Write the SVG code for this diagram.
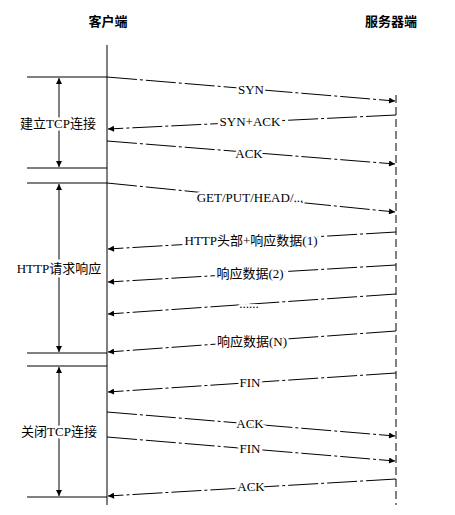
<svg xmlns="http://www.w3.org/2000/svg" width="455" height="515" viewBox="0 0 455 515">
<defs>
<marker id="ah" viewBox="0 0 10 10" refX="10" refY="5" markerWidth="7" markerHeight="6" markerUnits="userSpaceOnUse" orient="auto">
<path d="M0,0 L10,5 L0,10 z" fill="#000"/>
</marker>
<marker id="ah2" viewBox="0 0 10 10" refX="10" refY="5" markerWidth="6" markerHeight="6" markerUnits="userSpaceOnUse" orient="auto-start-reverse">
<path d="M0,0 L10,5 L0,10 z" fill="#000"/>
</marker>
<style>
.t{font-family:"Liberation Serif","Noto Sans CJK SC",serif;font-size:13px;fill:#000;text-anchor:middle;dominant-baseline:central}
.h{font-weight:bold}
.lbl{paint-order:stroke;stroke:#fff;stroke-width:5px}
.msg{stroke:#000;stroke-width:1;fill:none;stroke-dasharray:30,3,3,3;marker-end:url(#ah)}
.ln{stroke:#000;stroke-width:1;fill:none}
.br{stroke:#000;stroke-width:1;fill:none;marker-start:url(#ah2);marker-end:url(#ah2)}
</style>
</defs>
<rect width="455" height="515" fill="#fff"/>
<g id="client">
<text class="t h" x="108" y="21">客户端</text>
<line class="ln" x1="107" y1="45" x2="107" y2="505"/>
</g>
<g id="server">
<text class="t h" x="391" y="21">服务器端</text>
<line class="ln" x1="396" y1="95" x2="396" y2="505" stroke-dasharray="8,4"/>
</g>
<g id="phase-connect">
<line class="ln" x1="27" y1="77" x2="107" y2="77"/>
<line class="ln" x1="27" y1="168" x2="107" y2="168"/>
<line class="br" x1="59" y1="78" x2="59" y2="167"/>
<text class="t lbl" x="58" y="123">建立TCP连接</text>
</g>
<g id="phase-http">
<line class="ln" x1="27" y1="183" x2="107" y2="183"/>
<line class="ln" x1="27" y1="353" x2="107" y2="353"/>
<line class="br" x1="59" y1="184" x2="59" y2="352"/>
<text class="t lbl" x="59" y="268">HTTP请求响应</text>
</g>
<g id="phase-close">
<line class="ln" x1="27" y1="366" x2="107" y2="366"/>
<line class="ln" x1="27" y1="497" x2="107" y2="497"/>
<line class="br" x1="59" y1="367" x2="59" y2="496"/>
<text class="t lbl" x="59" y="431">关闭TCP连接</text>
</g>
<g id="connectors">
<line class="msg" x1="107" y1="77" x2="395" y2="101"/>
<line class="msg" x1="396" y1="115" x2="108" y2="129"/>
<line class="msg" x1="107" y1="141" x2="395" y2="164"/>
<line class="msg" x1="107" y1="183" x2="395" y2="212"/>
<line class="msg" x1="396" y1="232" x2="108" y2="249"/>
<line class="msg" x1="396" y1="265" x2="108" y2="282"/>
<line class="msg" x1="396" y1="294" x2="108" y2="314"/>
<line class="msg" x1="396" y1="331" x2="108" y2="352"/>
<line class="msg" x1="396" y1="373" x2="108" y2="392"/>
<line class="msg" x1="107" y1="412" x2="395" y2="436"/>
<line class="msg" x1="107" y1="437" x2="395" y2="461"/>
<line class="msg" x1="396" y1="479" x2="108" y2="496"/>
<text class="t lbl" x="251" y="89">SYN</text>
<text class="t lbl" x="250" y="121">SYN+ACK</text>
<text class="t lbl" x="249" y="153">ACK</text>
<text class="t lbl" x="250" y="197">GET/PUT/HEAD/...</text>
<text class="t lbl" x="251" y="240">HTTP头部+响应数据(1)</text>
<text class="t lbl" x="250" y="273">响应数据(2)</text>
<text class="t lbl" x="249" y="303">......</text>
<text class="t lbl" x="252" y="341">响应数据(N)</text>
<text class="t lbl" x="250" y="382">FIN</text>
<text class="t lbl" x="250" y="423">ACK</text>
<text class="t lbl" x="250" y="448">FIN</text>
<text class="t lbl" x="251" y="486">ACK</text>
</g>
</svg>
